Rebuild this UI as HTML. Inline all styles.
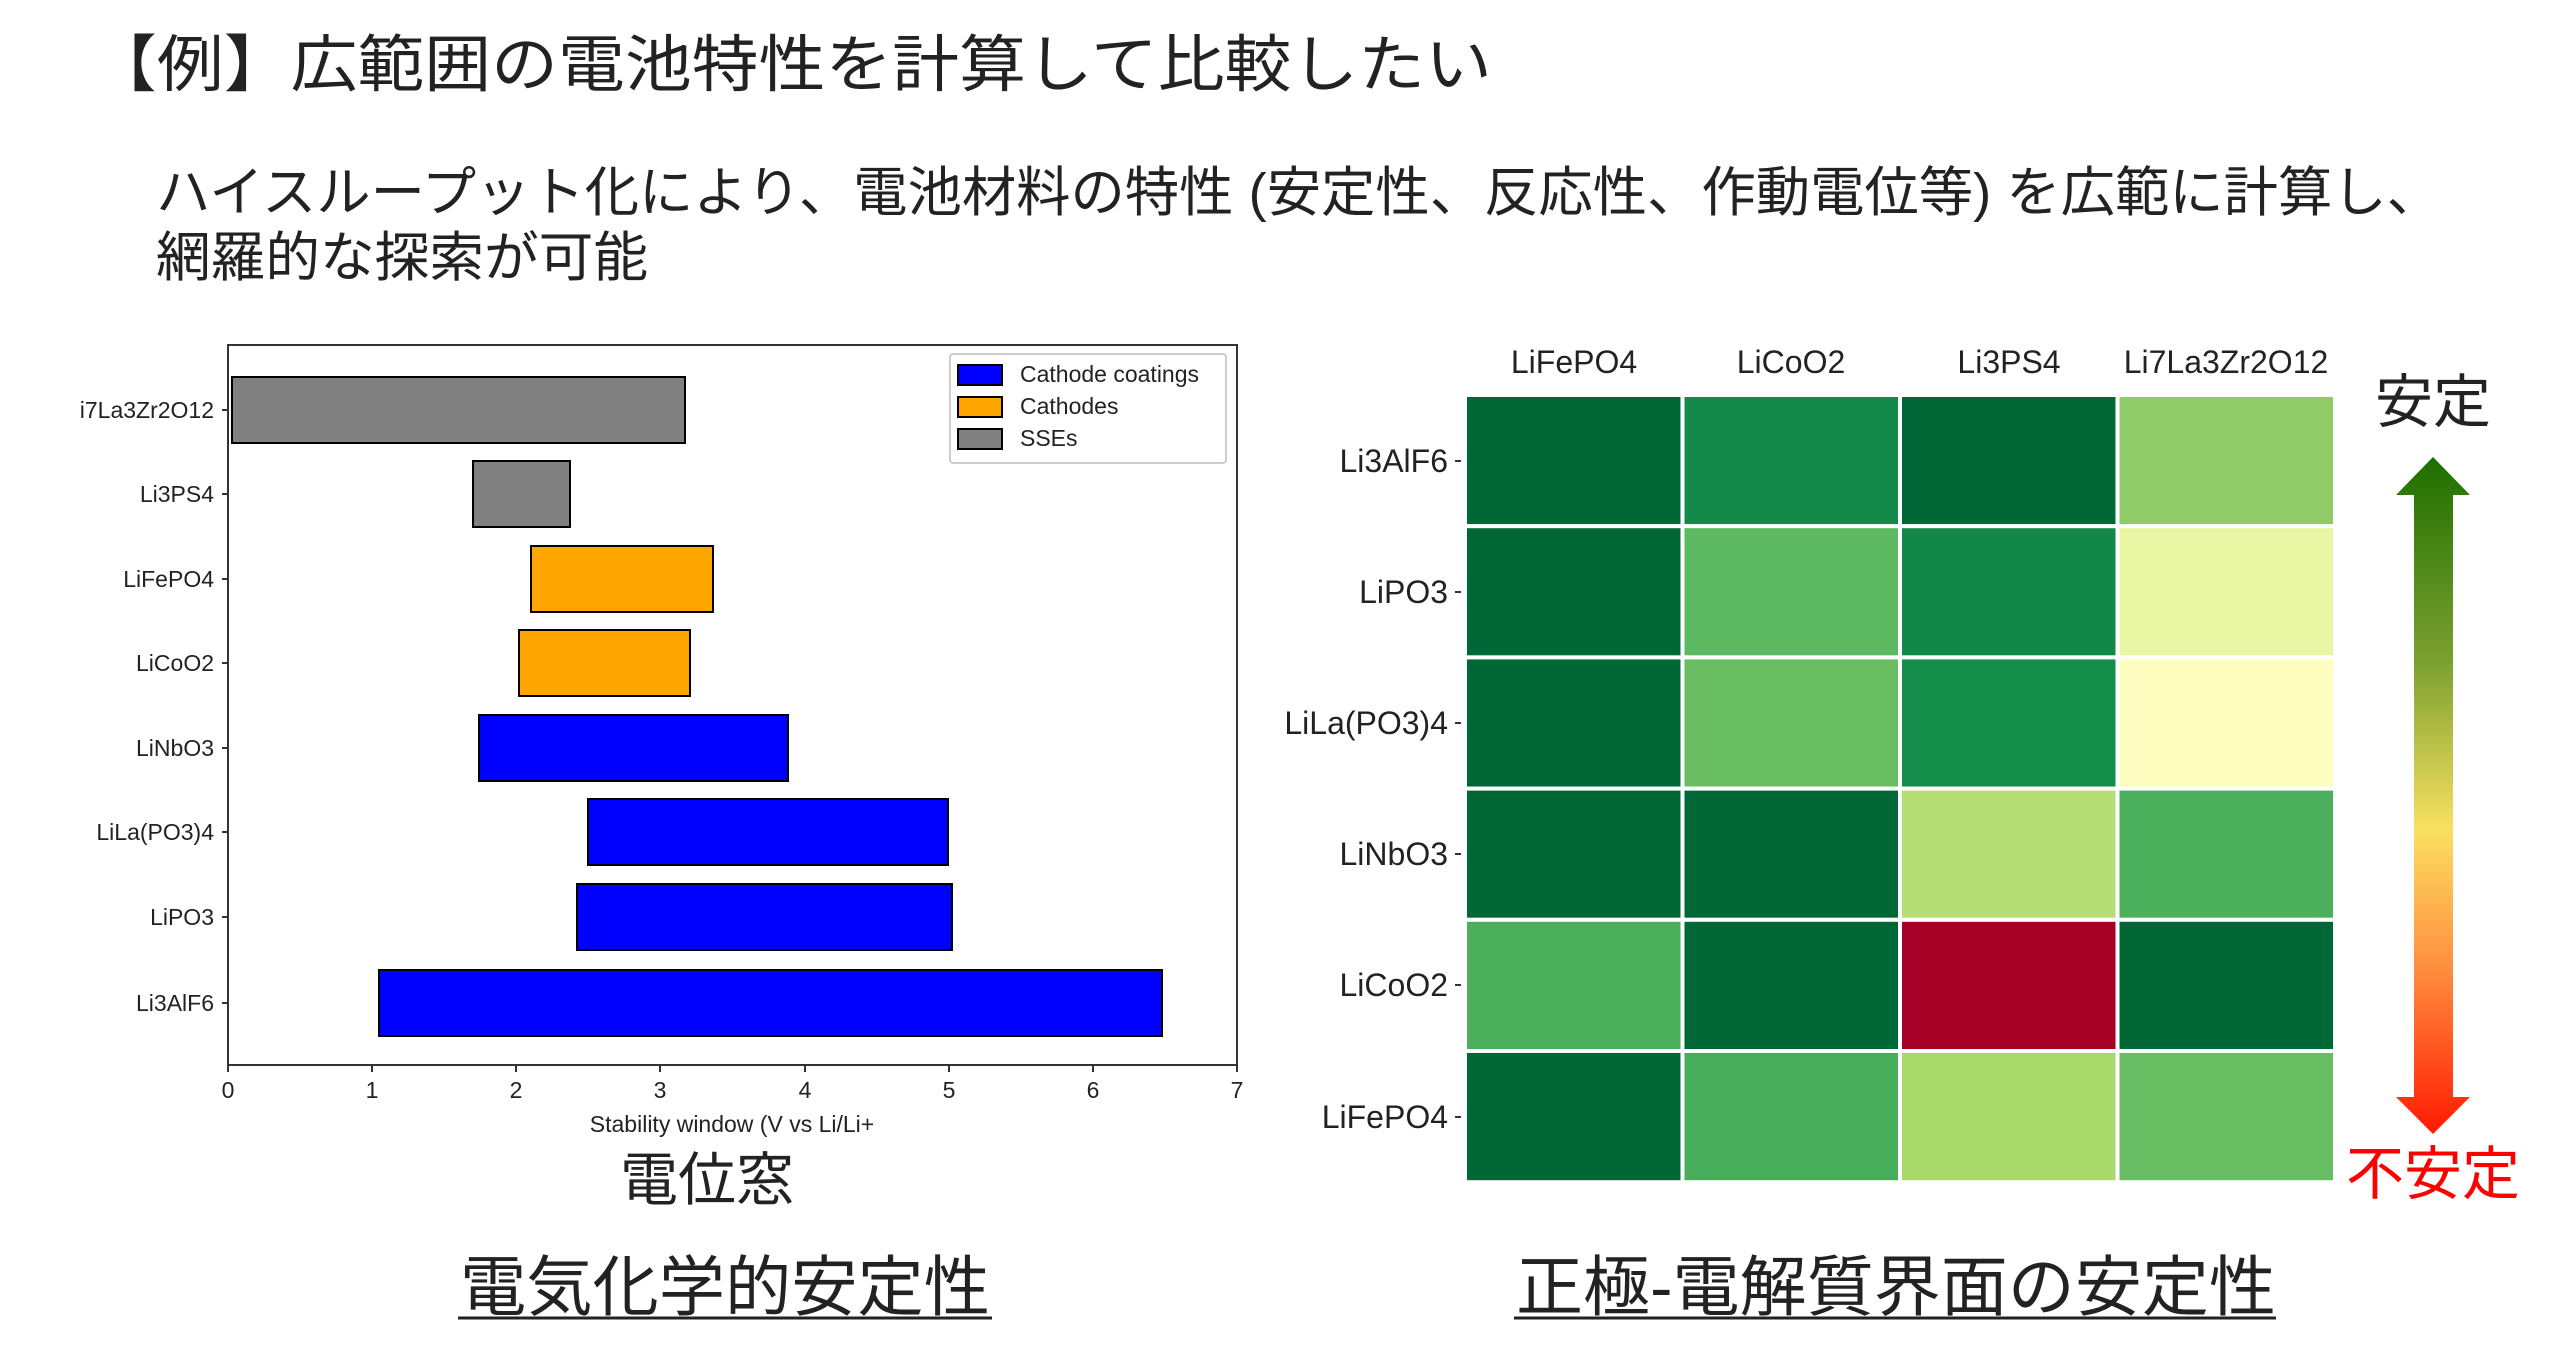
<!DOCTYPE html>
<html><head><meta charset="utf-8"><style>
html,body{margin:0;padding:0;background:#fff;}
svg{display:block;}
text{font-family:"Liberation Sans","Noto Sans CJK JP",sans-serif;}
</style></head><body>
<svg width="2560" height="1367" viewBox="0 0 2560 1367" xmlns="http://www.w3.org/2000/svg">
<rect width="2560" height="1367" fill="#fff"/>
<!-- Title -->
<text x="90" y="86" font-size="62" fill="#222" textLength="1402" lengthAdjust="spacingAndGlyphs">【例】広範囲の電池特性を計算して比較したい</text>
<text x="156" y="211" font-size="54" fill="#222" textLength="2285" lengthAdjust="spacingAndGlyphs">ハイスループット化により、電池材料の特性 (安定性、反応性、作動電位等) を広範に計算し、</text>
<text x="156" y="276" font-size="54" fill="#222" textLength="492" lengthAdjust="spacingAndGlyphs">網羅的な探索が可能</text>

<!-- Left chart -->
<g font-family="Liberation Sans, DejaVu Sans, sans-serif">
<rect x="228" y="345" width="1009" height="720" fill="none" stroke="#333" stroke-width="2"/>
<g stroke="#000" stroke-width="2">
<rect x="232" y="377" width="453" height="66" fill="#808080"/>
<rect x="473" y="461" width="97" height="66" fill="#808080"/>
<rect x="531" y="546" width="182" height="66" fill="#FFA500"/>
<rect x="519" y="630" width="171" height="66" fill="#FFA500"/>
<rect x="479" y="715" width="309" height="66" fill="#0000FF"/>
<rect x="588" y="799" width="360" height="66" fill="#0000FF"/>
<rect x="577" y="884" width="375" height="66" fill="#0000FF"/>
<rect x="379" y="970" width="783" height="66" fill="#0000FF"/>
</g>
<g stroke="#333" stroke-width="2">
<line x1="222" y1="410" x2="228" y2="410"/><line x1="222" y1="494" x2="228" y2="494"/>
<line x1="222" y1="579" x2="228" y2="579"/><line x1="222" y1="663" x2="228" y2="663"/>
<line x1="222" y1="748" x2="228" y2="748"/><line x1="222" y1="832" x2="228" y2="832"/>
<line x1="222" y1="917" x2="228" y2="917"/><line x1="222" y1="1003" x2="228" y2="1003"/>
<line x1="228" y1="1065" x2="228" y2="1072"/><line x1="372" y1="1065" x2="372" y2="1072"/>
<line x1="516" y1="1065" x2="516" y2="1072"/><line x1="660" y1="1065" x2="660" y2="1072"/>
<line x1="805" y1="1065" x2="805" y2="1072"/><line x1="949" y1="1065" x2="949" y2="1072"/>
<line x1="1093" y1="1065" x2="1093" y2="1072"/><line x1="1237" y1="1065" x2="1237" y2="1072"/>
</g>
<g font-size="23" fill="#222" text-anchor="end">
<text x="214" y="418">i7La3Zr2O12</text>
<text x="214" y="502">Li3PS4</text>
<text x="214" y="587">LiFePO4</text>
<text x="214" y="671">LiCoO2</text>
<text x="214" y="756">LiNbO3</text>
<text x="214" y="840">LiLa(PO3)4</text>
<text x="214" y="925">LiPO3</text>
<text x="214" y="1011">Li3AlF6</text>
</g>
<g font-size="23" fill="#222" text-anchor="middle">
<text x="228" y="1098">0</text><text x="372" y="1098">1</text><text x="516" y="1098">2</text>
<text x="660" y="1098">3</text><text x="805" y="1098">4</text><text x="949" y="1098">5</text>
<text x="1093" y="1098">6</text><text x="1237" y="1098">7</text>
<text x="732" y="1132">Stability window (V vs Li/Li+</text>
</g>
<rect x="950" y="354" width="276" height="109" fill="#fff" stroke="#ccc" stroke-width="2" rx="3"/>
<g stroke="#000" stroke-width="2">
<rect x="958" y="365" width="44" height="20" fill="#0000FF"/>
<rect x="958" y="397" width="44" height="20" fill="#FFA500"/>
<rect x="958" y="429" width="44" height="20" fill="#808080"/>
</g>
<g font-size="23" fill="#222">
<text x="1020" y="382">Cathode coatings</text>
<text x="1020" y="414">Cathodes</text>
<text x="1020" y="446">SSEs</text>
</g>
</g>
<text x="707" y="1200" font-size="58" fill="#222" text-anchor="middle">電位窓</text>
<text x="725" y="1310" font-size="66" fill="#222" text-anchor="middle" textLength="530" lengthAdjust="spacingAndGlyphs">電気化学的安定性</text>
<line x1="458" y1="1318" x2="992" y2="1318" stroke="#222" stroke-width="3"/>

<!-- Heatmap -->
<g stroke="#fff" stroke-width="4">
<rect x="1465" y="395" width="217.5" height="131.2" fill="#006837"/>
<rect x="1682.5" y="395" width="217.5" height="131.2" fill="#138a49"/>
<rect x="1900" y="395" width="217.5" height="131.2" fill="#006837"/>
<rect x="2117.5" y="395" width="217.5" height="131.2" fill="#91cb67"/>
<rect x="1465" y="526.2" width="217.5" height="131.2" fill="#006837"/>
<rect x="1682.5" y="526.2" width="217.5" height="131.2" fill="#5db862"/>
<rect x="1900" y="526.2" width="217.5" height="131.2" fill="#118848"/>
<rect x="2117.5" y="526.2" width="217.5" height="131.2" fill="#e9f6a4"/>
<rect x="1465" y="657.4" width="217.5" height="131.2" fill="#006837"/>
<rect x="1682.5" y="657.4" width="217.5" height="131.2" fill="#69bd63"/>
<rect x="1900" y="657.4" width="217.5" height="131.2" fill="#158e4b"/>
<rect x="2117.5" y="657.4" width="217.5" height="131.2" fill="#fcfdbf"/>
<rect x="1465" y="788.6" width="217.5" height="131.2" fill="#006837"/>
<rect x="1682.5" y="788.6" width="217.5" height="131.2" fill="#006837"/>
<rect x="1900" y="788.6" width="217.5" height="131.2" fill="#b6de76"/>
<rect x="2117.5" y="788.6" width="217.5" height="131.2" fill="#4bb05c"/>
<rect x="1465" y="919.8" width="217.5" height="131.2" fill="#4aae5b"/>
<rect x="1682.5" y="919.8" width="217.5" height="131.2" fill="#006837"/>
<rect x="1900" y="919.8" width="217.5" height="131.2" fill="#a50026"/>
<rect x="2117.5" y="919.8" width="217.5" height="131.2" fill="#006837"/>
<rect x="1465" y="1051" width="217.5" height="131.2" fill="#006837"/>
<rect x="1682.5" y="1051" width="217.5" height="131.2" fill="#48ad5a"/>
<rect x="1900" y="1051" width="217.5" height="131.2" fill="#a6d96a"/>
<rect x="2117.5" y="1051" width="217.5" height="131.2" fill="#69be63"/>
</g>
<g font-size="32" fill="#222" text-anchor="middle">
<text x="1574" y="373">LiFePO4</text>
<text x="1791" y="373">LiCoO2</text>
<text x="2009" y="373">Li3PS4</text>
<text x="2226" y="373">Li7La3Zr2O12</text>
</g>
<g font-size="32" fill="#222" text-anchor="end">
<text x="1448" y="472">Li3AlF6</text>
<text x="1448" y="603">LiPO3</text>
<text x="1448" y="734">LiLa(PO3)4</text>
<text x="1448" y="865">LiNbO3</text>
<text x="1448" y="996">LiCoO2</text>
<text x="1448" y="1128">LiFePO4</text>
</g>
<g stroke="#333" stroke-width="2">
<line x1="1455" y1="461" x2="1461" y2="461"/><line x1="1455" y1="592" x2="1461" y2="592"/>
<line x1="1455" y1="723" x2="1461" y2="723"/><line x1="1455" y1="854" x2="1461" y2="854"/>
<line x1="1455" y1="985" x2="1461" y2="985"/><line x1="1455" y1="1117" x2="1461" y2="1117"/>
</g>
<defs><linearGradient id="g" x1="0" y1="0" x2="0" y2="1">
<stop offset="0" stop-color="#1e6e00"/><stop offset="0.3" stop-color="#7aa030"/>
<stop offset="0.55" stop-color="#fae060"/><stop offset="0.75" stop-color="#ff9040"/>
<stop offset="1" stop-color="#ff1a00"/></linearGradient></defs>
<path d="M2433 457 L2470 495 L2453 495 L2453 1097 L2470 1097 L2433 1134 L2396 1097 L2414 1097 L2414 495 L2396 495 Z" fill="url(#g)"/>
<text x="2433" y="422" font-size="58" fill="#222" text-anchor="middle">安定</text>
<text x="2433" y="1194" font-size="58" fill="#ff0000" text-anchor="middle">不安定</text>
<text x="1896" y="1310" font-size="66" fill="#222" text-anchor="middle" textLength="760" lengthAdjust="spacingAndGlyphs">正極-電解質界面の安定性</text>
<line x1="1514" y1="1318" x2="2276" y2="1318" stroke="#222" stroke-width="3"/>
</svg>
</body></html>
